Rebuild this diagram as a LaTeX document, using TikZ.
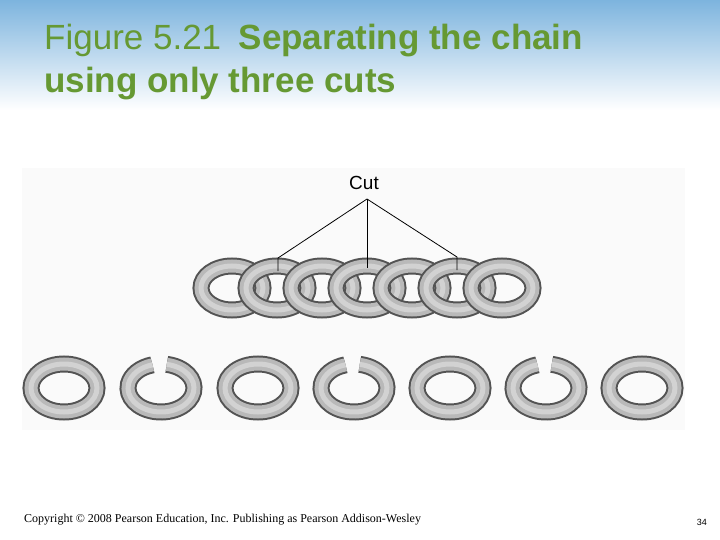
\documentclass[tikz,border=0pt]{standalone}
\usepackage{fontspec}
\setmainfont{Liberation Sans}
\newfontfamily\serifc{Liberation Serif}
\definecolor{ttl}{RGB}{102,153,51}
\definecolor{band}{RGB}{125,180,222}
\begin{document}
\begin{tikzpicture}[x=1pt,y=-1pt,
  tube/.style={line width=17pt, draw=gray!65!black, postaction={draw=gray!55,line width=13pt}, postaction={draw=gray!35,line width=5pt}},
  cutline/.style={draw=black, line width=0.8pt}]
\useasboundingbox (0,0) rectangle (720,540);
\fill[white] (0,0) rectangle (720,540);
\shade[top color=band, bottom color=white] (0,0) rectangle (720,110);
\fill[gray!4] (22,168) rectangle (685,430);
\node[anchor=base west, text=ttl, font=\fontsize{35}{40}\selectfont, inner sep=0] (t1) at (44,50) {Figure 5.21\hspace{0.5em}\textbf{Separating the chain}};
\node[anchor=base west, text=ttl, font=\fontsize{35}{40}\selectfont\bfseries, inner sep=0] (t2) at (44,93) {using only three cuts};
% top chain
\foreach \i in {0,...,6} {
  \draw[tube] ({232+45*\i},288) ellipse[x radius=31, y radius=22];
}
\node[font=\fontsize{19}{22}\selectfont] (cut) at (364,183) {Cut};
\coordinate (apex) at (367,199);
\coordinate (l1) at (278,258); \coordinate (l2) at (278,271);
\coordinate (m2) at (367,268);
\coordinate (r1) at (457,257); \coordinate (r2) at (457,270);
\draw[cutline] (apex) -- (l1) -- (l2);
\draw[cutline] (apex) -- (m2);
\draw[cutline] (apex) -- (r1) -- (r2);
% bottom rings
\foreach \x [count=\k] in {64,161,258,354,450,546,642} {
  \ifodd\k
    \draw[tube] (\x,388) ellipse[x radius=33, y radius=24];
  \else
    \draw[tube, line cap=butt] (\x,388) ++(-80:33 and 24) arc[start angle=-80,end angle=255,x radius=33,y radius=24];
  \fi
}
\node[anchor=base west, font=\serifc\fontsize{12}{14}\selectfont, inner sep=0] (copy) at (24,522) {Copyright © 2008 Pearson Education, Inc. Publishing as Pearson Addison-Wesley};
\node[anchor=base east, font=\fontsize{9}{11}\selectfont, inner sep=0] (pg) at (707,525) {34};
\end{tikzpicture}
\end{document}
